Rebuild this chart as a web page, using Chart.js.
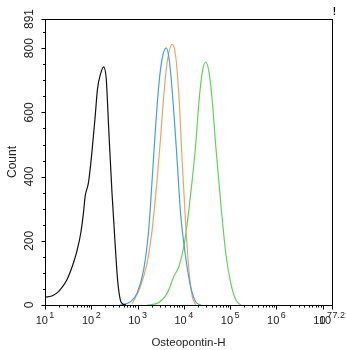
<!DOCTYPE html>
<html>
<head>
<meta charset="utf-8">
<script src="https://cdn.jsdelivr.net/npm/chart.js@4"></script>
<style>
html,body{margin:0;padding:0;background:#fff;}
#wrap{position:relative;width:346px;height:350px;}
</style>
</head>
<body>
<div id="wrap"><canvas id="c" width="346" height="350"></canvas></div>
<script>
// x values are log10(Osteopontin-H intensity)
const blackX = [1.0,1.145,1.254,1.325,1.471,1.614,1.688,1.774,1.831,1.868,1.939,2.013,2.085,2.135,2.193,2.265,2.323,2.373,2.447,2.518,2.568,2.627,2.664,2.75];
const blackY = [24,28,37,47,78,131,167,225,287,339,381,475,590,674,716,742,705,559,350,183,78,16,5,0];

const blueX = [2.627,2.844,2.989,3.132,3.241,3.315,3.386,3.458,3.531,3.618,3.690,3.783,3.857,3.928,4.037,4.145,4.254,4.362];
const blueY = [0,10,37,110,235,392,549,684,768,801,757,601,444,287,151,57,10,0];

const orangeX = [2.887,3.061,3.206,3.315,3.423,3.495,3.566,3.640,3.748,3.820,3.892,3.965,4.037,4.108,4.182,4.254];
const orangeY = [5,57,131,235,392,517,653,757,812,778,653,444,256,110,26,0];

const greenX = [3.206,3.423,3.640,3.783,3.892,4.000,4.074,4.182,4.254,4.325,4.399,4.471,4.542,4.616,4.688,4.796,4.905,5.013,5.121,5.230];
const greenY = [0,5,37,89,120,183,256,392,496,632,726,757,726,632,496,319,162,68,16,0];

const xTickValues = [1,2,3,4,5,6,7,7.2];
const xTickBase = ['10','10','10','10','10','10','10','10'];
const xTickExp = ['1','2','3','4','5','6','7','7.2'];
const yTickValues = [0,200,400,600,800,891];
const yTickLabels = ['0','200','400','600','800','891'];
const yMinorStep = 50;

function pts(xs, ys){ return xs.map((x,i)=>({x:x, y:ys[i]})); }

const axesPlugin = {
  id: 'axesPlugin',
  afterDraw(chart){
    const ctx = chart.ctx;
    const a = chart.chartArea;
    const xs = chart.scales.x, ys = chart.scales.y;
    ctx.save();
    ctx.strokeStyle = '#000';
    ctx.lineWidth = 1;
    // frame
    ctx.strokeRect(Math.round(a.left)+0.5, Math.round(a.top)+0.5, Math.round(a.right-a.left), Math.round(a.bottom-a.top));
    const by = Math.round(a.bottom)+0.5;
    const lx = Math.round(a.left)+0.5;
    ctx.beginPath();
    // x major ticks
    xTickValues.forEach(v=>{
      const px = Math.round(xs.getPixelForValue(v))+0.5;
      ctx.moveTo(px, by); ctx.lineTo(px, by+4);
    });
    // x minor ticks
    for(let d=1; d<=7; d++){
      for(let k=2;k<=9;k++){
        const v = d + Math.log10(k);
        if (v > 7.2) continue;
        const px = Math.round(xs.getPixelForValue(v))+0.5;
        ctx.moveTo(px, by); ctx.lineTo(px, by+2);
      }
    }
    // y major ticks
    yTickValues.forEach(v=>{
      const py = Math.round(ys.getPixelForValue(v))+0.5;
      ctx.moveTo(lx, py); ctx.lineTo(lx-4, py);
    });
    // y minor ticks
    for(let v=0; v<=891; v+=yMinorStep){
      if (v % 200 === 0) continue;
      const py = Math.round(ys.getPixelForValue(v))+0.5;
      ctx.moveTo(lx, py); ctx.lineTo(lx-2.5, py);
    }
    ctx.stroke();

    // x tick labels with superscripts
    ctx.fillStyle = '#222';
    ctx.textBaseline = 'middle';
    const baseFont = '11px "Liberation Sans", Arial, sans-serif';
    const supFont = '9px "Liberation Sans", Arial, sans-serif';
    xTickValues.forEach((v,i)=>{
      const px = xs.getPixelForValue(v);
      ctx.font = baseFont;
      const wb = ctx.measureText(xTickBase[i]).width;
      ctx.font = supFont;
      const we = ctx.measureText(xTickExp[i]).width;
      const gap = 1.5;
      const total = wb + gap + we;
      const x0 = px - total/2;
      ctx.font = baseFont;
      ctx.textAlign = 'left';
      ctx.fillText(xTickBase[i], x0, 320.5);
      ctx.font = supFont;
      ctx.fillText(xTickExp[i], x0 + wb + gap, 316);
    });

    // y tick labels rotated
    ctx.font = '12px "Liberation Sans", Arial, sans-serif';
    ctx.textAlign = 'center';
    ctx.textBaseline = 'middle';
    yTickValues.forEach((v,i)=>{
      const py = ys.getPixelForValue(v);
      ctx.save();
      ctx.translate(30, py);
      ctx.rotate(-Math.PI/2);
      ctx.fillText(yTickLabels[i], 0, 0);
      ctx.restore();
    });

    // small mark at top right
    ctx.fillStyle = '#000';
    ctx.font = 'bold 10px "Liberation Sans", Arial, sans-serif';
    ctx.textAlign = 'center';
    ctx.fillText('!', 334.5, 12);
    ctx.restore();
  }
};

new Chart(document.getElementById('c'), {
  type: 'line',
  data: {
    datasets: [
      {label:'Control', data: pts(blackX, blackY), borderColor:'#111', borderWidth:1.2, tension:0.2, cubicInterpolationMode:'monotone', pointRadius:0, fill:false},
      {label:'Blue', data: pts(blueX, blueY), borderColor:'#3ea4d2', borderWidth:1.2, tension:0.4, cubicInterpolationMode:'monotone', pointRadius:0, fill:false},
      {label:'Orange', data: pts(orangeX, orangeY), borderColor:'#f1a163', borderWidth:1.2, tension:0.4, cubicInterpolationMode:'monotone', pointRadius:0, fill:false},
      {label:'Green', data: pts(greenX, greenY), borderColor:'#62d35a', borderWidth:1.2, tension:0.4, cubicInterpolationMode:'monotone', pointRadius:0, fill:false}
    ]
  },
  options: {
    responsive:false,
    animation:false,
    devicePixelRatio:1,
    layout:{padding:{top:19,right:14,left:0,bottom:0}},
    plugins:{legend:{display:false}, tooltip:{enabled:false}},
    scales:{
      x:{
        type:'linear', min:1, max:7.2,
        grid:{display:false, drawTicks:false},
        border:{display:false},
        ticks:{display:false},
        title:{display:true, text:'Osteopontin-H', color:'#222', font:{size:11.5, family:'"Liberation Sans", Arial, sans-serif'}, padding:{top:3,bottom:0}},
        afterFit(s){ s.height = 45; }
      },
      y:{
        type:'linear', min:0, max:891,
        grid:{display:false, drawTicks:false},
        border:{display:false},
        ticks:{display:false},
        title:{display:true, text:'Count', color:'#222', font:{size:12, family:'"Liberation Sans", Arial, sans-serif'}, padding:{top:5,bottom:0}},
        afterFit(s){ s.width = 45; }
      }
    }
  },
  plugins:[axesPlugin]
});
</script>
</body>
</html>
